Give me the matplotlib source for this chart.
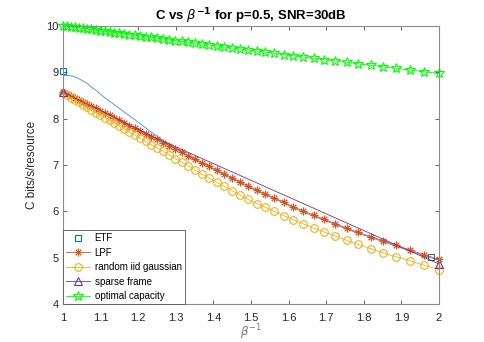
import numpy as np
import matplotlib
matplotlib.use("Agg")
import matplotlib.pyplot as plt

# sampling grid: beta = 1.00, 0.99, ..., 0.50 -> x = 1/beta
beta = np.arange(100, 49, -1) / 100
beta_inv = 1 / beta

etf_line = [8.93, 8.93, 8.92, 8.90, 8.86, 8.81, 8.76, 8.68, 8.61, 8.53,
            8.45, 8.37, 8.30, 8.22, 8.14, 8.06, 7.98, 7.89, 7.80, 7.71,
            7.62, 7.53, 7.45, 7.36, 7.27, 7.19, 7.11, 7.03, 6.95, 6.87,
            6.79, 6.71, 6.62, 6.53, 6.44, 6.36, 6.27, 6.18, 6.08, 5.99,
            5.90, 5.81, 5.72, 5.62, 5.53, 5.44, 5.35, 5.25, 5.15, 5.05,
            4.95]
etf_x = [1.0, 1.978]
etf_pts = [9.02, 5.03]

lpf = [8.57, 8.53, 8.49, 8.44, 8.40, 8.36, 8.31, 8.26, 8.22, 8.17,
       8.12, 8.07, 8.01, 7.96, 7.91, 7.85, 7.79, 7.73, 7.67, 7.61,
       7.55, 7.48, 7.42, 7.35, 7.28, 7.20, 7.13, 7.05, 6.97, 6.89,
       6.81, 6.73, 6.64, 6.55, 6.46, 6.38, 6.29, 6.20, 6.10, 6.01,
       5.92, 5.83, 5.74, 5.64, 5.55, 5.46, 5.37, 5.27, 5.17, 5.07,
       4.97]

gauss = [8.55, 8.50, 8.45, 8.40, 8.35, 8.30, 8.24, 8.19, 8.13, 8.08,
         8.02, 7.96, 7.90, 7.84, 7.78, 7.71, 7.65, 7.58, 7.51, 7.44,
         7.37, 7.30, 7.22, 7.14, 7.06, 6.98, 6.89, 6.80, 6.72, 6.63,
         6.54, 6.45, 6.36, 6.26, 6.17, 6.09, 6.00, 5.91, 5.82, 5.73,
         5.64, 5.56, 5.47, 5.38, 5.29, 5.20, 5.11, 5.02, 4.94, 4.84,
         4.75]

sparse_x = [1.0, 1.25, 2.0]
sparse = [8.57, 7.57, 4.87]

optimal = [10.00, 9.989, 9.978, 9.966, 9.954, 9.942, 9.930, 9.918, 9.905, 9.892,
           9.879, 9.865, 9.851, 9.837, 9.823, 9.808, 9.793, 9.778, 9.762, 9.746,
           9.729, 9.713, 9.695, 9.678, 9.660, 9.641, 9.622, 9.603, 9.583, 9.562,
           9.542, 9.520, 9.498, 9.475, 9.452, 9.428, 9.403, 9.378, 9.352, 9.325,
           9.298, 9.269, 9.240, 9.210, 9.179, 9.147, 9.114, 9.080, 9.044, 9.008,
           8.970]

plt.rcParams["font.family"] = ["Liberation Sans", "DejaVu Sans"]
plt.rcParams["font.size"] = 7

fig = plt.figure(figsize=(4.85, 3.42), dpi=100)
ax = fig.add_axes([0.13, 0.11, 0.775, 0.815])

lw = 0.6
ax.plot(beta_inv, etf_line, color="#3a8fd4", lw=lw)
ax.plot(etf_x, etf_pts, ls="none", marker="s", color="#0072BD", mfc="none",
        mec="#0072BD", ms=4.5, mew=0.8, label="ETF", clip_on=False)
ax.plot(beta_inv, lpf, color="#D95319", lw=lw, marker=(8, 2, 0), ms=5.5,
        mew=0.7, label="LPF", clip_on=False)
ax.plot(beta_inv, gauss, color="#EDB120", lw=lw, marker="o", mfc="none",
        ms=5.5, mew=0.8, label="random iid gaussian", clip_on=False)
ax.plot(sparse_x, sparse, color="#7E2F8E", lw=lw, marker="^", mfc="none",
        ms=5.5, mew=0.8, markevery=[0, len(sparse) - 1], label="sparse frame",
        clip_on=False)
ax.plot(beta_inv, optimal, color="#00FF00", lw=lw, marker="*", mfc="none",
        ms=7, mew=0.8, label="optimal capacity", clip_on=False)

ax.set_xlim(1, 2)
ax.set_ylim(4, 10)
ax.set_xticks(np.arange(1, 2.01, 0.1))
ax.set_xticklabels(["1", "1.1", "1.2", "1.3", "1.4", "1.5", "1.6", "1.7",
                    "1.8", "1.9", "2"])
ax.set_yticks(range(4, 11))
ax.tick_params(direction="in", length=3, width=0.5, top=True, right=True,
               colors="#262626", labelsize=8)
ax.tick_params(axis="x", pad=6)
ax.tick_params(axis="y", pad=3)
for s in ax.spines.values():
    s.set_color("#8a8a8a")
    s.set_linewidth(0.8)

ax.set_title(r"C vs $\beta^{\mathbf{-1}}$ for p=0.5, SNR=30dB",
             fontweight="bold", fontsize=9.5, pad=4)
ax.set_xlabel(r"$\beta^{-1}$", color="#777777", fontsize=8.5)
ax.xaxis.set_label_coords(0.5, -0.065)
ax.set_ylabel("C bits/s/resource", color="#262626", fontsize=8.5, labelpad=6)

leg = ax.legend(loc="lower left", borderaxespad=0, fontsize=7, fancybox=False,
                edgecolor="#555555", framealpha=1, handlelength=2.4,
                labelspacing=0.45, borderpad=0.35, handletextpad=0.5)
leg.get_frame().set_linewidth(0.6)

plt.savefig("out.png", dpi=100)
